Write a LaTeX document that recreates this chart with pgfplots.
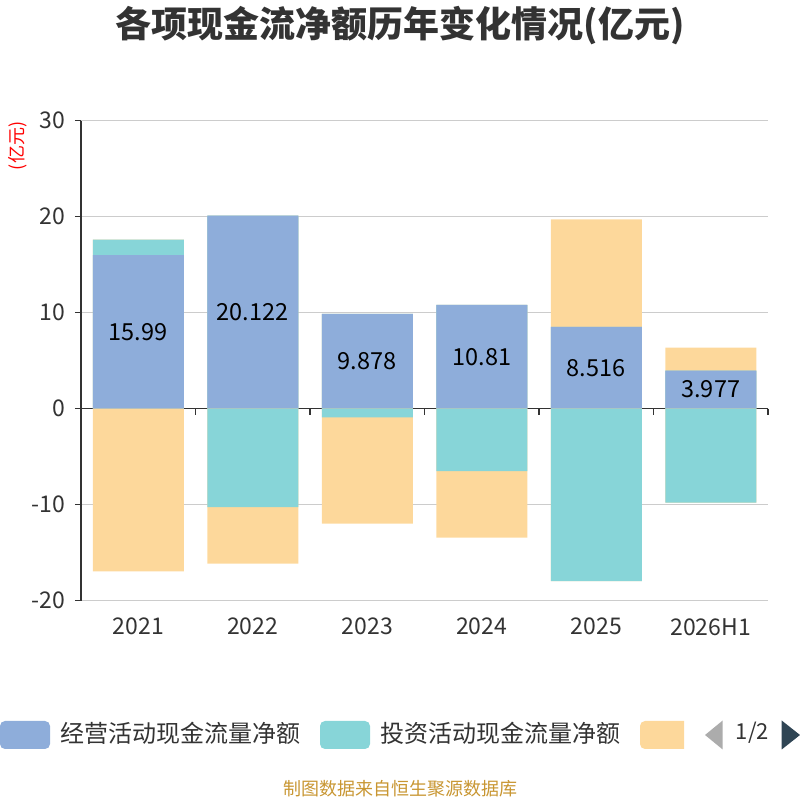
\documentclass[border=0pt]{standalone}
\usepackage{fontspec}
\setmainfont{Noto Sans CJK SC}
\usepackage{pgfplots}
\pgfplotsset{compat=1.18}
\definecolor{cop}{RGB}{142,173,218}
\definecolor{cinv}{RGB}{135,213,216}
\definecolor{cfin}{RGB}{253,216,155}
\definecolor{axc}{RGB}{51,51,51}
\definecolor{gridc}{RGB}{204,204,204}
\definecolor{goldc}{RGB}{200,150,50}
\definecolor{navc}{RGB}{47,69,84}
\begin{document}
\begin{tikzpicture}[x=1pt,y=1pt]
\useasboundingbox (0,0) rectangle (800,800);
\node[font=\fontsize{36}{36}\selectfont\bfseries, text=axc] at (400,774) {各项现金流净额历年变化情况(亿元)};
\node[font=\fontsize{18}{18}\selectfont, text=red, rotate=90] at (18,654) {(亿元)};
\begin{axis}[at={(81pt,199.3pt)}, anchor=south west, scale only axis,
  width=687pt, height=480pt,
  xmin=-0.5, xmax=5.5, ymin=-20, ymax=30,
  axis line style={draw=none},
  xtick={0,1,2,3,4,5},
  xticklabels={2021,2022,2023,2024,2025,2026H1},
  ytick={-20,-10,0,10,20,30},
  ymajorgrids, grid style={gridc, line width=1.5pt},
  tick align=outside, major tick length=6pt,
  ytick pos=left, xtick pos=bottom,
  y tick style={axc, line width=1.5pt},
  x tick style={draw=none},
  /pgf/number format/assume math mode=true,
  tick label style={font=\fontsize{23}{23}\selectfont, text=axc},
  yticklabel style={xshift=-6pt},
  xticklabel style={yshift=-8pt},
  clip=false,
]
\draw[axc, line width=1.5pt] (axis cs:-0.5,0) -- (axis cs:5.5,0);
\pgfplotsinvokeforeach{-0.5,0.5,1.5,2.5,3.5,4.5,5.5}{
  \draw[axc, line width=1.5pt] (axis cs:#1,0) -- (axis cs:#1,-0.625);
}
\draw[axc, line width=1.5pt] (axis cs:-0.5,-20) -- (axis cs:-0.5,30);
% positive side: op + invest(+) + financing(+)
\addplot[ybar, bar shift=0pt, bar width=91pt, fill=cfin, draw=none]
  coordinates {(0,17.60) (1,20.122) (2,9.878) (3,10.81) (4,19.72) (5,6.35)};
\addplot[ybar, bar shift=0pt, bar width=91pt, fill=cinv, draw=none]
  coordinates {(0,17.60) (1,20.122) (2,9.878) (3,10.81) (4,8.516) (5,3.977)};
\addplot[ybar, bar shift=0pt, bar width=91pt, fill=cop, draw=none,
  nodes near coords, point meta=explicit symbolic,
  visualization depends on={y \as \rawy},
  every node near coord/.append style={anchor=center,
    shift={(axis direction cs:0,-\rawy/2)},
    font=\fontsize{23.5}{23.5}\selectfont, text=black}]
  coordinates {(0,15.99)[15.99] (1,20.122)[20.122] (2,9.878)[9.878]
               (3,10.81)[10.81] (4,8.516)[8.516] (5,3.977)[3.977]};
% negative side: invest(-) then financing(-)
\addplot[ybar, bar shift=0pt, bar width=91pt, fill=cfin, draw=none]
  coordinates {(0,-16.95) (1,-16.15) (2,-11.98) (3,-13.44) (4,-17.96) (5,-9.79)};
\addplot[ybar, bar shift=0pt, bar width=91pt, fill=cinv, draw=none]
  coordinates {(1,-10.25) (2,-0.90) (3,-6.50) (4,-17.96) (5,-9.79)};
\end{axis}
% legend
\fill[cop, rounded corners=5pt] (0,51) rectangle (50,79);
\node[anchor=west, font=\fontsize{24}{24}\selectfont, text=axc, inner sep=0pt] at (60,67) {经营活动现金流量净额};
\fill[cinv, rounded corners=5pt] (320,51) rectangle (370,79);
\node[anchor=west, font=\fontsize{24}{24}\selectfont, text=axc, inner sep=0pt] at (380,67) {投资活动现金流量净额};
\begin{scope}
\clip (630,40) rectangle (684,90);
\fill[cfin, rounded corners=5pt] (640,51) rectangle (700,79);
\end{scope}
\fill[gray!65] (705,65) -- (722.7,79.5) -- (722.7,50.5) -- cycle;
\node[font=\fontsize{22}{22}\selectfont, text=axc] at (752.5,67) {1/2};
\fill[navc] (781.7,79.5) -- (781.7,50.5) -- (800,65) -- cycle;
\node[font=\fontsize{18}{18}\selectfont, text=goldc] at (400,11) {制图数据来自恒生聚源数据库};
\end{tikzpicture}
\end{document}
